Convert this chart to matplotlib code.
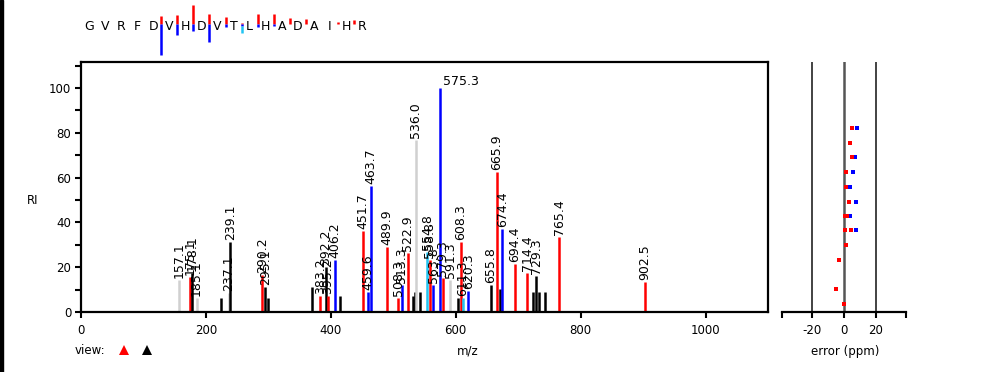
import matplotlib
matplotlib.use("Agg")
import matplotlib.pyplot as plt
from matplotlib.patches import Rectangle

# peak list: m/z, relative intensity, ion colour, label ('' = no label)
mz = [157.1, 175.1, 178.1, 185.1, 224.5, 237.1, 239.1, 290.2, 295.1, 299.0,
      369.5, 383.2, 392.2, 395.2, 406.2, 414.3, 451.7, 459.6, 463.7, 489.9,
      508.3, 513.3, 522.9, 531.0, 534.9, 536.0, 543.0, 554.8, 558.8, 563.8,
      575.3, 579.3, 591.3, 603.0, 608.3, 611.3, 620.3, 655.8, 665.9, 671.4,
      674.4, 694.4, 714.4, 723.7, 729.3, 733.3, 743.4, 765.4, 902.5]
ri = [14.3, 15.5, 17.4, 6.2, 6.1, 8.5, 31.1, 16.5, 11.3, 6.1,
      11.3, 7.1, 20.2, 7.1, 23.2, 7.1, 36.3, 9.1, 56.3, 29.2,
      6.1, 12.1, 26.2, 7.1, 9.1, 76.8, 9.1, 26.9, 23.2, 12.1,
      100.0, 15.0, 14.3, 6.1, 31.1, 6.1, 9.4, 12.1, 62.4, 10.1,
      37.1, 21.3, 17.3, 9.1, 16.1, 9.1, 9.1, 33.3, 13.3]
ion = ["g", "r", "k", "g", "k", "g", "k", "r", "k", "k",
       "k", "r", "k", "r", "b", "k", "r", "b", "b", "r",
       "r", "b", "r", "k", "k", "g", "k", "c", "r", "b",
       "b", "r", "g", "k", "r", "c", "b", "k", "r", "k",
       "b", "r", "r", "k", "k", "k", "k", "r", "r"]
labels = ["157.1", "175.1", "178.1", "185.1", "", "237.1", "239.1", "290.2", "295.1", "",
          "", "383.2", "392.2", "395.2", "406.2", "", "451.7", "459.6", "463.7", "489.9",
          "508.3", "513.3", "522.9", "", "", "536.0", "", "554.8", "558.8", "563.8",
          "575.3", "579.3", "591.3", "", "608.3", "611.3", "620.3", "655.8", "665.9", "",
          "674.4", "694.4", "714.4", "", "729.3", "", "", "765.4", "902.5"]

# mass error panel (ppm vs RI)
err_red_ri = [82.3, 75.6, 69.3, 62.6, 55.9, 49.2, 42.7, 42.7, 36.5, 36.5, 29.8, 23.1, 10.3, 3.6]
err_red_ppm = [5.2, 3.8, 4.8, 1.5, 1.5, 3.1, 0.6, 1.7, 0.6, 4.6, 1.5, -2.9, -4.8, 0.0]
err_blue_ri = [82.3, 69.3, 62.6, 55.9, 49.2, 42.7, 36.5]
err_blue_ppm = [7.9, 7.1, 5.4, 4.0, 7.7, 4.0, 7.3]

# sequence with fragment marks between residues
sequence = "GVRFDVHDVTLHADAIHR"
cut_pos = [4.5, 5.5, 6.5, 7.5, 8.5, 9.5, 10.5, 11.5, 12.5, 13.5, 15.5, 16.5]
cut_red = [8, 9, 19, 10, 7, 1.5, 10, 10, 6, 5, 2, 4]
cut_blue = [31, 11, 7, 17.5, 3, 2, 3, 2, 0, 0, 0, 0]
cut_cyan = [0, 0, 0, 0, 0, 7, 0, 0, 0, 0, 0, 0]

colmap = {"r": "#ff0000", "b": "#0000ff", "k": "#000000", "g": "#d0d0d0", "c": "#22c4f2"}

W, H = 981, 372
fig = plt.figure(figsize=(W / 100, H / 100), dpi=100)
plt.rcParams["font.family"] = ["DejaVu Sans"]

def box(l, t, r, b):
    return [l / W, (H - b) / H, (r - l) / W, (b - t) / H]

ax = fig.add_axes(box(81, 62, 768, 312))
ax.vlines(mz, 0, ri, colors=[colmap[c] for c in ion], lw=1.8)
for m, r, lab in zip(mz, ri, labels):
    if not lab:
        continue
    if r > 90:
        ax.annotate(lab, (m, r), xytext=(2, 0), textcoords="offset points",
                    ha="left", va="bottom", fontsize=9)
    else:
        ax.annotate(lab, (m, r), xytext=(0, 1.5), textcoords="offset points",
                    ha="center", va="bottom", rotation=90, fontsize=9)
ax.set_xlim(0, 1100)
ax.set_ylim(0, 111.6)
ax.set_xticks([0, 200, 400, 600, 800, 1000])
ax.set_yticks([0, 20, 40, 60, 80, 100])
ax.set_yticks([10, 30, 50, 70, 90, 110], minor=True)
ax.tick_params(axis="both", which="both", width=1.5, length=4, labelsize=8.5, pad=3)
ax.tick_params(axis="x", pad=5)
for s in ax.spines.values():
    s.set_linewidth(1.6)
fig.text(33 / W, 1 - 200 / H, "RI", fontsize=8.5, ha="center", va="center")
fig.text(468 / W, 1 - 351 / H, "m/z", fontsize=8.5, ha="center", va="center")
fig.text(75 / W, 1 - 351 / H, "view:", fontsize=8.5, ha="left", va="center")

ax2 = fig.add_axes(box(782, 62, 906, 312))
ax2.set_xlim(-38.75, 38.75)
ax2.set_ylim(0, 111.6)
ax2.axvline(-20, color="#222222", lw=1.2)
ax2.axvline(20, color="#222222", lw=1.2)
ax2.axvline(0, color="#555555", lw=1.8)
ax2.plot(err_blue_ppm, err_blue_ri, "s", color="#0000ff", ms=3.4, mew=0)
ax2.plot(err_red_ppm, err_red_ri, "s", color="#ff0000", ms=3.4, mew=0)
ax2.set_xticks([-38.75, -20, 0, 20, 38.75])
ax2.set_xticklabels(["", "-20", "0", "20", ""])
ax2.set_yticks([])
for side in ["left", "right", "top"]:
    ax2.spines[side].set_visible(False)
ax2.spines["bottom"].set_linewidth(1.6)
ax2.tick_params(axis="x", width=1.5, length=4, labelsize=8.5, pad=5)
fig.text(845 / W, 1 - 351 / H, "error (ppm)", fontsize=8.5, ha="center", va="center")

# overlay in pixel coordinates for the sequence header and view buttons
ov = fig.add_axes([0, 0, 1, 1], facecolor="none")
ov.set_xlim(0, W)
ov.set_ylim(H, 0)
ov.axis("off")
x0, step, yc = 89, 16.06, 24
for i, aa in enumerate(sequence):
    ov.text(x0 + i * step, 27, aa, fontsize=9, ha="center", va="center")
for p, rl, bl, cl in zip(cut_pos, cut_red, cut_blue, cut_cyan):
    x = x0 + p * step
    if rl:
        ov.vlines(x, yc - rl, yc, colors="#ff0000", lw=1.8)
    if bl:
        ov.vlines(x, yc, yc + bl, colors="#0000ff", lw=1.8)
    if cl:
        ov.vlines(x, yc + bl, yc + bl + cl, colors="#22c4f2", lw=1.8)
ov.plot([124], [350], "^", color="#ff0000", ms=7, mew=0)
ov.plot([146.5], [350], "^", color="#000000", ms=7, mew=0)
fig.add_artist(Rectangle((0, 0), 2.5 / W, 1, transform=fig.transFigure, color="black"))

fig.savefig("out.png", dpi=100)
